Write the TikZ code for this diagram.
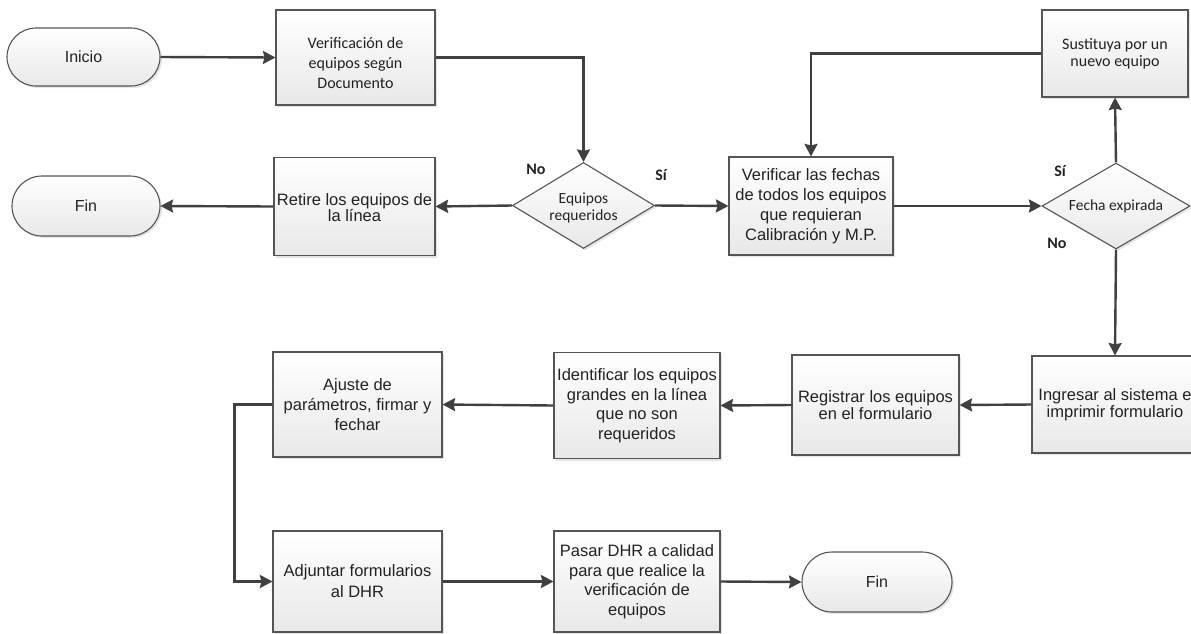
\documentclass[tikz,border=0pt]{standalone}
\usepackage{fontspec}
\setmainfont{Liberation Sans}
\newfontfamily\carl{Carlito}
\usetikzlibrary{arrows.meta,shapes.geometric,shapes.misc,shadows}
\definecolor{lnc}{HTML}{404040}
\definecolor{bdr}{HTML}{555555}
\definecolor{txt}{HTML}{222222}
\newcommand\dn[1]{\rule{0pt}{#1}}
\newcommand\tightlines{\setlength{\lineskiplimit}{-30pt}\setlength{\lineskip}{0pt}}
\tikzset{
  shade/.style={draw=bdr, line width=1.1pt, top color=white, bottom color=black!9,
    drop shadow={shadow xshift=2pt, shadow yshift=-2pt, fill=black!40, opacity=0.25}},
  procbox/.style={shade, rectangle, inner sep=0pt, align=center, text=txt,
    font=\fontsize{16.5}{19}\selectfont},
  calbox/.style={procbox, font=\carl\fontsize{16}{20}\selectfont},
  term/.style={shade, rounded rectangle, inner sep=0pt, text=txt,
    font=\fontsize{16}{19}\selectfont},
  dec/.style={shade, diamond, inner sep=0pt, shape aspect=1.64, align=center, text=txt,
    font=\carl\fontsize{15.5}{17}\selectfont},
  conn/.style={draw=lnc, line width=2.4pt, line join=miter,
    -{Stealth[length=12.5pt,width=13pt,inset=1.5pt]}},
  lbl/.style={font=\carl\bfseries\fontsize{16}{18}\selectfont, text=txt, inner sep=0pt}
}
\begin{document}
\begin{tikzpicture}[x=1pt,y=-1pt]
\useasboundingbox (0,0) rectangle (1191,633);
% nodes
\node[term, minimum width=153pt, minimum height=58pt] (ini) at (83.5,57) {Inicio};
\node[calbox, minimum width=159pt, minimum height=95pt] (ver) at (355.5,57.5) {\dn{22pt}Verificación de\\equipos según\\Documento};
\node[dec, minimum width=142pt, minimum height=86pt] (d1) at (583.5,205.5) {\dn{15pt}Equipos\\requeridos};
\node[procbox, minimum width=161pt, minimum height=98pt, font={\fontsize{16.5}{16}\selectfont\tightlines}] (ret) at (354.5,206.5) {\dn{15pt}Retire los equipos de\\la línea};
\node[term, minimum width=148pt, minimum height=60pt] (fin1) at (86,206) {Fin};
\node[procbox, minimum width=164pt, minimum height=98pt, font=\fontsize{16.5}{20}\selectfont] (vf) at (811,206) {Verificar las fechas\\de todos los equipos\\que requieran\\Calibración y M.P.};
\node[dec, minimum width=148pt, minimum height=86pt] (d2) at (1116,206) {Fecha expirada};
\node[calbox, minimum width=146pt, minimum height=87pt, font=\carl\fontsize{16}{17}\selectfont] (sus) at (1115,53.5) {Sustituya por un\\nuevo equipo};
\node[procbox, minimum width=166pt, minimum height=97pt, font=\fontsize{16.5}{17.5}\selectfont] (ing) at (1115,404.5) {Ingresar al sistema e\\imprimir formulario};
\node[procbox, minimum width=167pt, minimum height=100pt, font=\fontsize{16.5}{17.5}\selectfont] (reg) at (875.5,405) {Registrar los equipos\\en el formulario};
\node[procbox, minimum width=166pt, minimum height=106pt, font=\fontsize{16.5}{19.5}\selectfont] (ide) at (637,405.5) {Identificar los equipos\\grandes en la línea\\que no son\\requeridos};
\node[procbox, minimum width=169pt, minimum height=105pt, font=\fontsize{16.5}{20}\selectfont] (aju) at (357.5,404.5) {Ajuste de\\parámetros, firmar y\\fechar};
\node[procbox, minimum width=169pt, minimum height=101pt, font=\fontsize{16.5}{21}\selectfont] (adj) at (357.5,581.5) {Adjuntar formularios\\al DHR};
\node[procbox, minimum width=166pt, minimum height=101pt, font=\fontsize{16.5}{19.5}\selectfont] (pas) at (637,581.5) {Pasar DHR a calidad\\para que realice la\\verificación de\\equipos};
\node[term, minimum width=150pt, minimum height=60pt] (fin2) at (877,582) {Fin};
% labels
\node[lbl] (l1) at (536,169) {No};
\node[lbl] (l2) at (661,175) {Sí};
\node[lbl] (l3) at (1060,171) {Sí};
\node[lbl] (l4) at (1057,243) {No};
% connectors
\draw[conn] (ini.east) -- (ver.west);
\draw[conn] (ver.east) -| (d1.north);
\draw[conn] (d1.west) -- (ret.east);
\draw[conn] (ret.west) -- (fin1.east);
\draw[conn] (d1.east) -- (vf.west);
\draw[conn] (vf.east) -- (d2.west);
\draw[conn] (d2.north) -- (sus.south);
\draw[conn] (sus.west) -| (vf.north);
\draw[conn] (d2.south) -- (ing.north);
\draw[conn] (ing.west) -- (reg.east);
\draw[conn] (reg.west) -- (ide.east);
\draw[conn] (ide.west) -- (aju.east);
\draw[conn] (aju.west) -- ++(-38,0) |- (adj.west);
\draw[conn] (adj.east) -- (pas.west);
\draw[conn] (pas.east) -- (fin2.west);
\end{tikzpicture}
\end{document}
